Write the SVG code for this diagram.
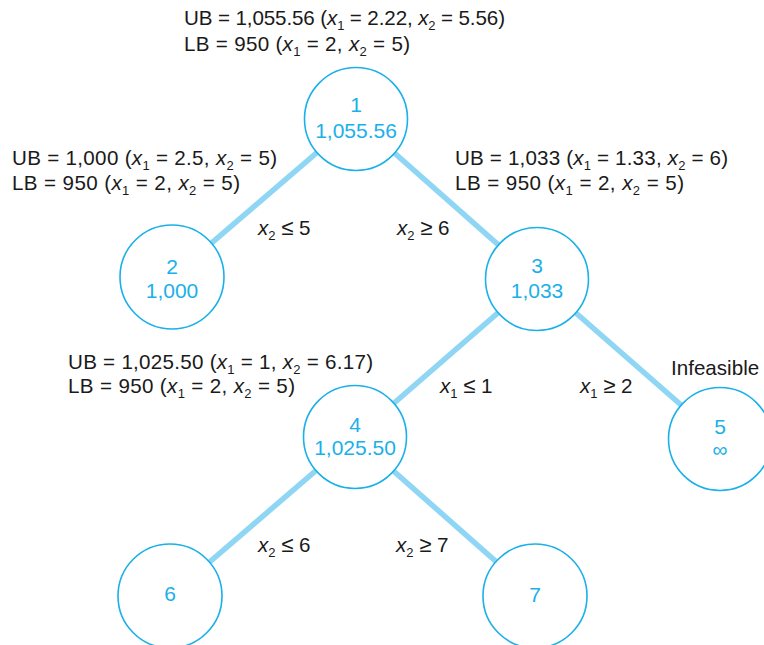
<svg xmlns="http://www.w3.org/2000/svg" width="764" height="645" viewBox="0 0 764 645">
<style>
.t{font-family:"Liberation Sans",Arial,sans-serif;font-size:20.6px;fill:#1a1a1a}
.i{font-style:italic}
.s{font-size:13px}
.r{font-size:22px}
.n{fill:#fff;stroke:#1ab0e8;stroke-width:1.6}
.nt{font-family:"Liberation Sans",Arial,sans-serif;font-size:21px;fill:#1ab0e8;text-anchor:middle}
.e{stroke:#8ed6f4;stroke-width:5.5;stroke-linecap:butt}
</style>
<rect width="764" height="645" fill="#fff"/>
<g id="connectors">
<line class="e" x1="356" y1="119" x2="172" y2="277"/>
<line class="e" x1="356" y1="119" x2="537" y2="279"/>
<line class="e" x1="537" y1="279" x2="355" y2="437"/>
<line class="e" x1="537" y1="279" x2="720" y2="439"/>
<line class="e" x1="355" y1="437" x2="170" y2="596"/>
<line class="e" x1="355" y1="437" x2="535" y2="596"/>
</g>
<g id="node1">
<circle class="n" cx="356" cy="119" r="51.5"/>
<text class="nt" x="356" y="112">1</text>
<text class="nt" x="356" y="138">1,055.56</text>
</g>
<g id="node2">
<circle class="n" cx="172" cy="277" r="52"/>
<text class="nt" x="172" y="274">2</text>
<text class="nt" x="172" y="298">1,000</text>
</g>
<g id="node3">
<circle class="n" cx="537" cy="279" r="51.5"/>
<text class="nt" x="537" y="273">3</text>
<text class="nt" x="537" y="298">1,033</text>
</g>
<g id="node4">
<circle class="n" cx="355" cy="437" r="51.5"/>
<text class="nt" x="355" y="432">4</text>
<text class="nt" x="355" y="455">1,025.50</text>
</g>
<g id="node5">
<circle class="n" cx="720" cy="439" r="51.5"/>
<text class="nt" x="720" y="434">5</text>
<text class="nt" x="720" y="457">∞</text>
</g>
<g id="node6">
<circle class="n" cx="170" cy="596" r="52"/>
<text class="nt" x="170" y="601">6</text>
</g>
<g id="node7">
<circle class="n" cx="535" cy="596" r="52"/>
<text class="nt" x="535" y="602">7</text>
</g>
<g id="labels">
<text class="t" x="184" y="25" textLength="321" lengthAdjust="spacing">UB = 1,055.56 (<tspan class="i">x</tspan><tspan class="s" dy="5">1</tspan><tspan dy="-5"> = 2.22, </tspan><tspan class="i">x</tspan><tspan class="s" dy="5">2</tspan><tspan dy="-5"> = 5.56)</tspan></text>
<text class="t" x="184" y="51" textLength="226" lengthAdjust="spacing">LB = 950 (<tspan class="i">x</tspan><tspan class="s" dy="5">1</tspan><tspan dy="-5"> = 2, </tspan><tspan class="i">x</tspan><tspan class="s" dy="5">2</tspan><tspan dy="-5"> = 5)</tspan></text>
<text class="t" x="12" y="165" textLength="265" lengthAdjust="spacing">UB = 1,000 (<tspan class="i">x</tspan><tspan class="s" dy="5">1</tspan><tspan dy="-5"> = 2.5, </tspan><tspan class="i">x</tspan><tspan class="s" dy="5">2</tspan><tspan dy="-5"> = 5)</tspan></text>
<text class="t" x="12" y="190" textLength="228" lengthAdjust="spacing">LB = 950 (<tspan class="i">x</tspan><tspan class="s" dy="5">1</tspan><tspan dy="-5"> = 2, </tspan><tspan class="i">x</tspan><tspan class="s" dy="5">2</tspan><tspan dy="-5"> = 5)</tspan></text>
<text class="t" x="455" y="165" textLength="273" lengthAdjust="spacing">UB = 1,033 (<tspan class="i">x</tspan><tspan class="s" dy="5">1</tspan><tspan dy="-5"> = 1.33, </tspan><tspan class="i">x</tspan><tspan class="s" dy="5">2</tspan><tspan dy="-5"> = 6)</tspan></text>
<text class="t" x="455" y="190" textLength="229" lengthAdjust="spacing">LB = 950 (<tspan class="i">x</tspan><tspan class="s" dy="5">1</tspan><tspan dy="-5"> = 2, </tspan><tspan class="i">x</tspan><tspan class="s" dy="5">2</tspan><tspan dy="-5"> = 5)</tspan></text>
<text class="t" x="68" y="369" textLength="305" lengthAdjust="spacing">UB = 1,025.50 (<tspan class="i">x</tspan><tspan class="s" dy="5">1</tspan><tspan dy="-5"> = 1, </tspan><tspan class="i">x</tspan><tspan class="s" dy="5">2</tspan><tspan dy="-5"> = 6.17)</tspan></text>
<text class="t" x="68" y="393" textLength="227" lengthAdjust="spacing">LB  = 950 (<tspan class="i">x</tspan><tspan class="s" dy="5">1</tspan><tspan dy="-5"> = 2, </tspan><tspan class="i">x</tspan><tspan class="s" dy="5">2</tspan><tspan dy="-5"> = 5)</tspan></text>
<text class="t" x="258" y="235"><tspan class="i">x</tspan><tspan class="s" dy="5">2</tspan><tspan dy="-5"> </tspan><tspan class="r">≤</tspan> 5</text>
<text class="t" x="397" y="235"><tspan class="i">x</tspan><tspan class="s" dy="5">2</tspan><tspan dy="-5"> </tspan><tspan class="r">≥</tspan> 6</text>
<text class="t" x="440" y="393"><tspan class="i">x</tspan><tspan class="s" dy="5">1</tspan><tspan dy="-5"> </tspan><tspan class="r">≤</tspan> 1</text>
<text class="t" x="580" y="393"><tspan class="i">x</tspan><tspan class="s" dy="5">1</tspan><tspan dy="-5"> </tspan><tspan class="r">≥</tspan> 2</text>
<text class="t" x="258" y="552"><tspan class="i">x</tspan><tspan class="s" dy="5">2</tspan><tspan dy="-5"> </tspan><tspan class="r">≤</tspan> 6</text>
<text class="t" x="396" y="552"><tspan class="i">x</tspan><tspan class="s" dy="5">2</tspan><tspan dy="-5"> </tspan><tspan class="r">≥</tspan> 7</text>
<text class="t" x="671" y="375">Infeasible</text>
</g>
</svg>
